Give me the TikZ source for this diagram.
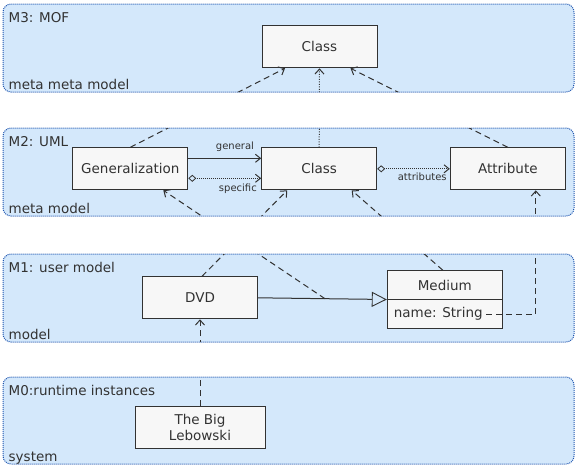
\documentclass[tikz,border=0pt]{standalone}
\usepackage{fontspec}
\setmainfont{DejaVu Sans}
\usetikzlibrary{arrows.meta}
\definecolor{layerfill}{RGB}{212,232,251}
\definecolor{layerline}{RGB}{30,85,175}
\definecolor{ink}{RGB}{50,50,50}
\tikzset{
  layer/.style={fill=layerfill, draw=layerline, line width=1pt,
    dash pattern=on 1pt off 1pt, rounded corners=8pt},
  layertext/.style={text=ink, inner sep=0pt, anchor=base west,
    font=\fontsize{13.5}{16}\selectfont},
  elem/.style={draw=ink, fill=white!97!black, line width=1pt, text=ink,
    minimum width=115pt, minimum height=42pt, inner sep=0pt,
    font=\fontsize{13.5}{16}\selectfont},
  elemtext/.style={text=ink, font=\fontsize{13.5}{16}\selectfont},
  roletext/.style={text=ink, font=\fontsize{10}{12}\selectfont},
  instof/.style={draw=ink, line width=1pt, dash pattern=on 6pt off 4pt,
    -{Straight Barb[length=5pt,width=9pt]}},
  instdot/.style={instof, dash pattern=on 1pt off 1.5pt},
  assoc/.style={draw=ink, line width=1pt, -{Straight Barb[length=5pt,width=8pt]}},
  owned/.style={assoc, dash pattern=on 1pt off 1pt,
    {Diamond[open,length=8pt,width=7pt,line width=0.8pt]}-{Straight Barb[length=5pt,width=8pt]}},
  gnrl/.style={draw=ink, line width=1pt,
    -{Triangle[open,length=15pt,width=15pt,line width=0.9pt]}}
}
\begin{document}
\begin{tikzpicture}[x=1pt, y=-1pt]
  \useasboundingbox (0,0) rectangle (576,467);

  % layers
  \draw[layer] (3,4) rectangle (574,92);
  \draw[layer] (3,128) rectangle (574,216);
  \draw[layer] (3,254) rectangle (574,342);
  \draw[layer] (3,377) rectangle (574,464);

  \node[layertext] (m3) at (8.5,22) {M3: MOF};
  \node[layertext] (m3kind) at (8.5,89) {meta meta model};
  \node[layertext] (m2) at (8.5,146) {M2: UML};
  \node[layertext] (m2kind) at (8.5,213) {meta model};
  \node[layertext] (m1) at (8.5,272.5) {M1: user model};
  \node[layertext] (m1kind) at (8.5,339) {model};
  \node[layertext] (m0) at (8.5,395) {M0:runtime instances};
  \node[layertext] (m0kind) at (8.5,461) {system};

  % elements
  \node[elem] (cls3) at (319.5,46.8) {Class};
  \node[elem] (gen) at (130.3,168.8) {Generalization};
  \node[elem] (cls2) at (319.2,168.8) {Class};
  \node[elem] (attr) at (507.8,168.8) {Attribute};
  \node[elem] (dvd) at (200,297.8) {DVD};
  \node[elem, minimum height=57.6pt] (medium) at (444.8,299.5) {};
  \node[elemtext] (mediumname) at (444.8,285.5) {Medium};
  \node[elemtext, anchor=west] (mediumattr) at (390.3,314) {name: String};
  \draw[draw=ink, line width=1pt] (medium.west) -- (medium.east);
  \node[elem, minimum width=130pt, minimum height=41.6pt, align=center]
    (lebowski) at (200,427.5) {The Big\\Lebowski};

  % associations
  \draw[assoc] ([yshift=10.5pt]gen.east) -- node[roletext, pos=0.64, above, inner sep=6pt] (lgeneral) {general} ([yshift=10.5pt]cls2.west);
  \draw[owned] ([yshift=-9.5pt]gen.east) -- node[roletext, pos=0.68, below, inner sep=5pt] (lspecific) {specific} ([yshift=-9.5pt]cls2.west);
  \draw[owned] (cls2.east) -- node[roletext, pos=0.62, below, inner sep=4pt] (lattr) {attributes} (attr.west);
  \draw[gnrl] (dvd.east) -- coordinate[pos=0.52] (gmid) (medium.west);

  % instance-of links
  \begin{scope}
    \clip (3,4) rectangle (574,92) (3,128) rectangle (574,216)
      (3,254) rectangle (574,342) (3,377) rectangle (574,464);
    \draw[instof] (gen.north) -- ([xshift=-34.5pt]cls3.south);
    \draw[instdot] (cls2.north) -- (cls3.south);
    \draw[instof] (attr.north) -- ([xshift=31pt]cls3.south);
    \draw[instof] ([xshift=2pt]dvd.north) -- ([xshift=-32pt]cls2.south);
    \draw[instof] (gmid) -- ([xshift=33pt]gen.south);
    \draw[instof] ([xshift=-2pt]medium.north) -- ([xshift=32.5pt]cls2.south);
    \draw[instof] (mediumattr.east) -| ([xshift=28pt]attr.south);
    \draw[instof] (lebowski.north) -- (dvd.south);
  \end{scope}
\end{tikzpicture}
\end{document}
